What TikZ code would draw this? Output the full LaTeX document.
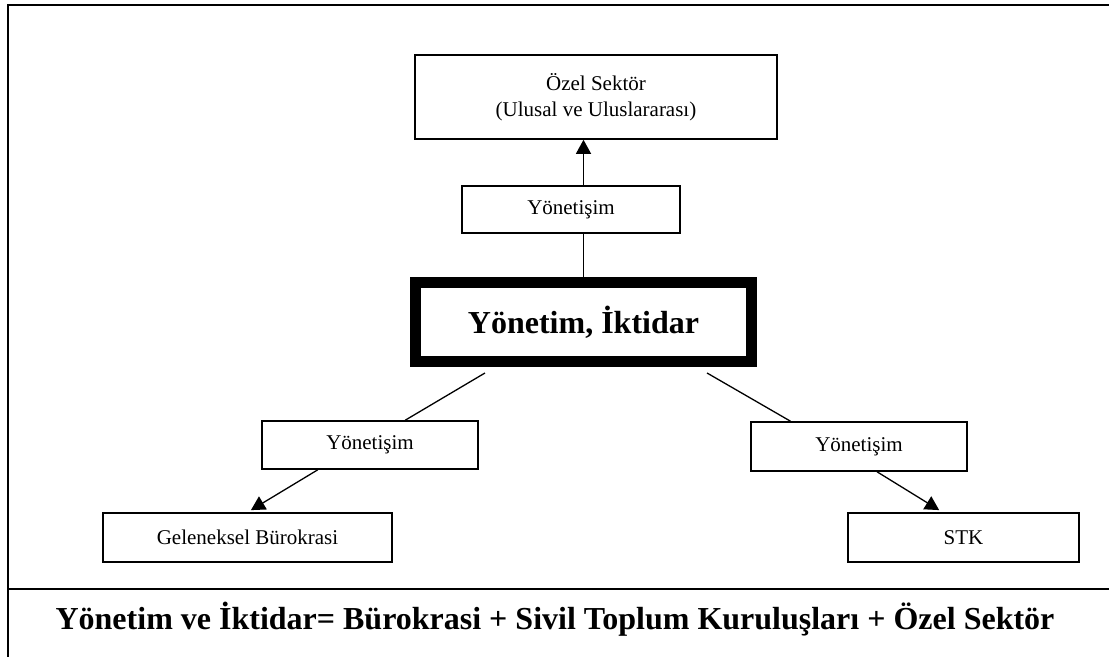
\documentclass[tikz,border=0pt]{standalone}
\usepackage{fontspec}
\setmainfont{Liberation Serif}
\usetikzlibrary{positioning,arrows.meta,calc}

\begin{document}
\begin{tikzpicture}[x=0.5pt, y=-0.5pt,
    box/.style={rectangle, draw=black, line width=0.8pt, inner sep=0pt, align=center, font=\fontsize{10.5}{13}\selectfont},
    arrow/.style={-{Triangle[length=7pt, width=7.5pt]}, line width=0.65pt, draw=black},
    link/.style={line width=0.65pt, draw=black},
    bigtext/.style={font=\fontsize{16}{19.2}\selectfont\bfseries}
]
    \useasboundingbox (0,0) rectangle (1109,657);

    % Frame
    \draw[line width=1pt] (7.5,657) -- (7.5,5) -- (1109,5);
    \draw[line width=1pt] (7.5,589) -- (1109,589);

    % Nodes
    \node[box, minimum width=181pt, minimum height=42pt] (ozel) at (596,97) {Özel Sektör\\(Ulusal ve Uluslararası)};
    \node[box, minimum width=109pt, minimum height=23.5pt] (yontop) at (571,209.5) {Yönetişim};
    \node[box, bigtext, line width=5.5pt, minimum width=168pt, minimum height=39.5pt] (yonetim) at (583.5,322) {Yönetim, İktidar};
    \node[box, minimum width=108pt, minimum height=24pt] (yonleft) at (370,445) {Yönetişim};
    \node[box, minimum width=108pt, minimum height=24.5pt] (yonright) at (859,446.5) {Yönetişim};
    \node[box, minimum width=144.5pt, minimum height=24.5pt] (geleneksel) at (247.5,537.5) {Geleneksel Bürokrasi};
    \node[box, minimum width=115.5pt, minimum height=24.5pt] (stk) at (963.5,537.5) {STK};
    \node[bigtext, anchor=base] (formula) at (555,630) {Yönetim ve İktidar= Bürokrasi + Sivil Toplum Kuruluşları + Özel Sektör};

    % Arrows
    \draw[link] (yonetim.north) -- (yonetim.north |- yontop.south);
    \draw[arrow] (yonetim.north |- yontop.north) -- (yonetim.north |- ozel.south);
    \draw[link] ($(yonetim.south west)!0.216!(yonetim.south east)+(0,6)$) -- ($(yonleft.north west)!0.662!(yonleft.north east)$);
    \draw[arrow, shorten >=2pt] ($(yonleft.south west)!0.26!(yonleft.south east)$) -- (geleneksel.north);
    \draw[link] ($(yonetim.south west)!0.856!(yonetim.south east)+(0,6)$) -- ($(yonright.north west)!0.185!(yonright.north east)$);
    \draw[arrow, shorten >=2pt] ($(yonright.south west)!0.583!(yonright.south east)$) -- ($(stk.north west)!0.41!(stk.north east)$);
\end{tikzpicture}
\end{document}
